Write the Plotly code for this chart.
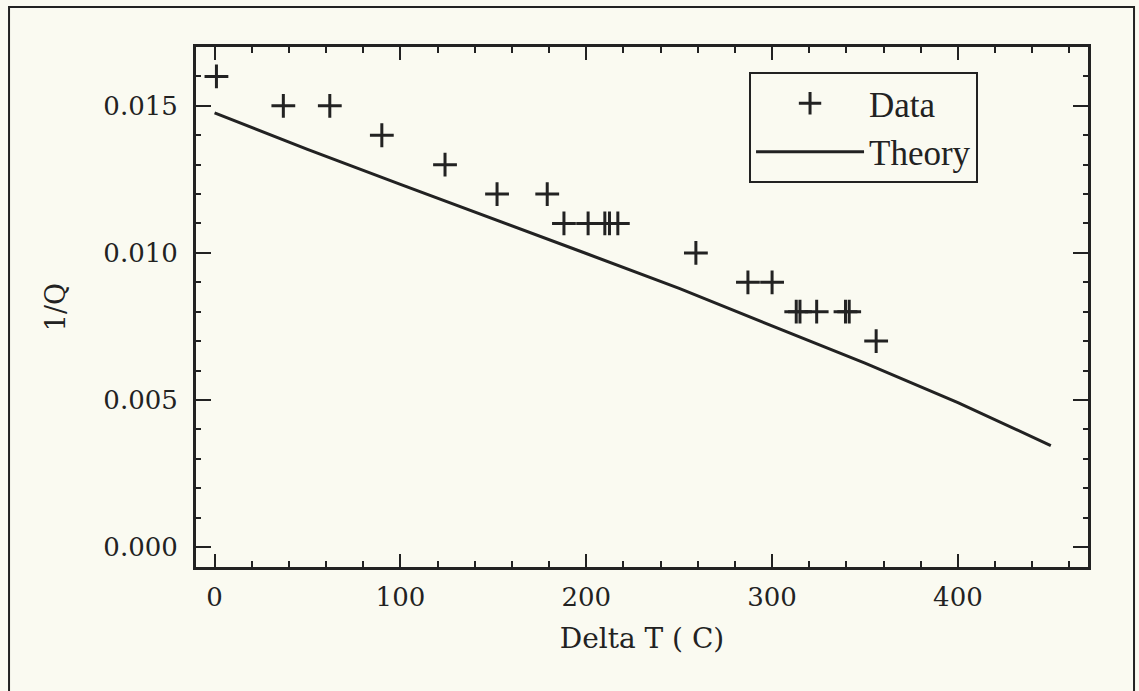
import plotly.graph_objects as go

# Data
data_x = [1, 37, 62, 90, 124, 152, 179, 188, 201, 210, 212.5, 217, 259, 287, 300, 313, 315, 324, 339.5, 341.5, 356]
data_y = [0.016, 0.015, 0.015, 0.014, 0.013, 0.012, 0.012, 0.011, 0.011, 0.011, 0.011, 0.011,
          0.010, 0.009, 0.009, 0.008, 0.008, 0.008, 0.008, 0.008, 0.007]

theory_x = [0, 50, 100, 150, 200, 250, 300, 350, 400, 450]
theory_y = [0.01476, 0.01352, 0.01233, 0.01116, 0.00998, 0.00879, 0.00753, 0.00625, 0.00491, 0.00345]

x_ticks = [0, 100, 200, 300, 400]
y_ticks = [0.000, 0.005, 0.010, 0.015]

ink = "#222222"
bg = "#fafaf1"
tick_font = dict(family="DejaVu Serif", size=26, color=ink)

fig = go.Figure()
fig.add_trace(go.Scatter(
    x=data_x, y=data_y, mode="markers", name="Data",
    marker=dict(symbol="cross-thin", size=17, line=dict(width=3, color=ink), color=ink),
))
fig.add_trace(go.Scatter(
    x=theory_x, y=theory_y, mode="lines", name="Theory",
    line=dict(width=3, color=ink),
))

axis_common = dict(
    showline=True, linewidth=3, linecolor=ink, mirror="allticks",
    ticks="inside", tickwidth=2, tickcolor=ink, showgrid=False, zeroline=False,
    tickfont=tick_font,
)

fig.update_xaxes(
    range=[-10, 470], tickvals=x_ticks, ticklen=13,
    minor=dict(dtick=20, tick0=0, ticks="inside", ticklen=6, tickwidth=2, tickcolor=ink, showgrid=False),
    title=dict(text="Delta T ( C)", font=dict(family="DejaVu Serif", size=28, color=ink), standoff=18),
    ticklabelstandoff=5,
    **axis_common,
)
fig.update_yaxes(
    range=[-0.00068, 0.017], tickvals=y_ticks, tickformat=".3f", ticklen=15,
    minor=dict(dtick=0.001, tick0=0, ticks="inside", ticklen=5, tickwidth=2, tickcolor=ink, showgrid=False),
    title=dict(text="1/Q", font=dict(family="DejaVu Serif", size=27, color=ink), standoff=30),
    ticklabelstandoff=10,
    **axis_common,
)

fig.add_shape(type="rect", xref="paper", yref="paper",
              x0=-0.2096, x1=1.0516, y0=-0.3, y1=1.077,
              line=dict(color=ink, width=2), layer="below")

fig.update_layout(
    width=1139, height=691,
    margin=dict(l=196, r=51, t=47, b=124),
    paper_bgcolor=bg, plot_bgcolor=bg,
    showlegend=True,
    legend=dict(
        x=0.62, y=0.952, xanchor="left", yanchor="top",
        bordercolor=ink, borderwidth=2, bgcolor=bg,
        font=dict(family="Liberation Serif", size=35, color=ink),
        itemwidth=108, tracegroupgap=0,
    ),
)

fig.write_html("out.html")
